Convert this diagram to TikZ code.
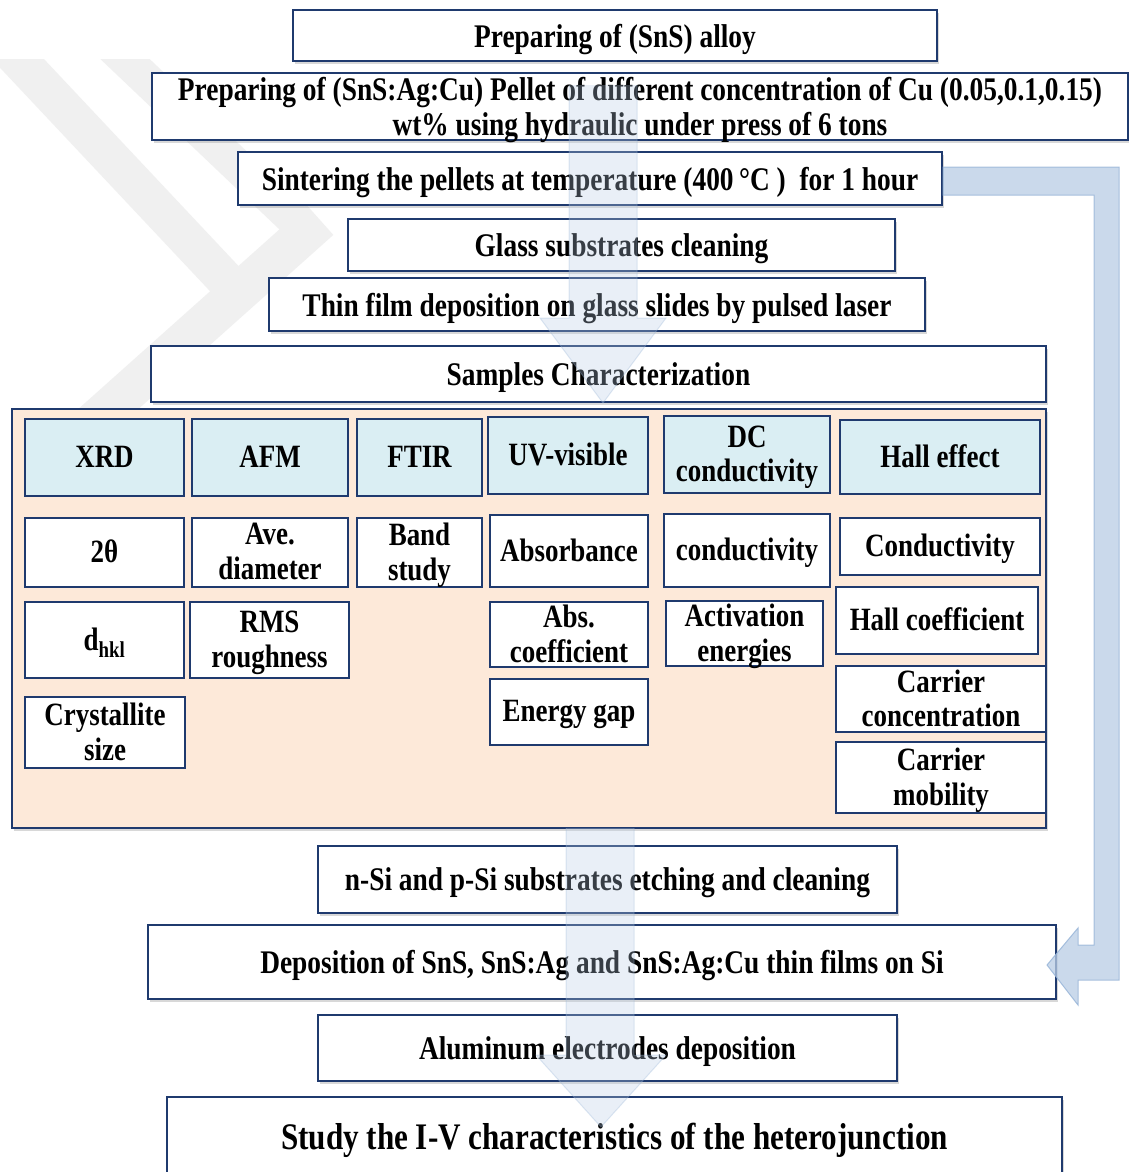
\documentclass[tikz,border=0pt]{standalone}
\usepackage{fontspec}
\setmainfont{Liberation Serif}[FakeStretch=0.83]
\usetikzlibrary{shadows}
\definecolor{navyline}{HTML}{1F3A6E}
\definecolor{hdrblue}{HTML}{DAEEF3}
\definecolor{peach}{HTML}{FDE9D9}
\definecolor{arrowblue}{HTML}{B9CDE5}
\definecolor{arrowedge}{HTML}{95B3D7}
\tikzset{
  stepbox/.style={draw=navyline, line width=1.6pt, fill=white, align=center, inner sep=2pt,
    font=\fontsize{33}{35}\selectfont\bfseries, text depth=0pt,
    drop shadow={opacity=0.3, shadow xshift=2pt, shadow yshift=-3pt}},
  cellbox/.style={draw=navyline, line width=1.4pt, fill=white, align=center, inner sep=1pt,
    font=\fontsize{32.5}{34.5}\selectfont\bfseries, text depth=2pt},
  hdrbox/.style={cellbox, fill=hdrblue},
  markfill/.style={black!6, line width=38pt},
}
\begin{document}
\begin{tikzpicture}[x=1pt, y=-1pt]
  \useasboundingbox (0,0) rectangle (1129,1172);
  \fill[white] (0,0) rectangle (1129,1172);

  % faint watermark
  \begin{scope}
    \clip (0,60) rectangle (700,1172);
    \draw[markfill] (0,40) -- (235,290);
    \draw[markfill, line width=34pt] (105,40) -- (310,235);
    \draw[markfill, line width=40pt] (320,220) -- (40,470);
  \end{scope}

  % process steps
  \node[stepbox, minimum width=644, minimum height=51] (alloy) at (615,35.5) {Preparing of (SnS) alloy};
  \node[stepbox, minimum width=976, minimum height=67] (pellet) at (640,106.5)
    {Preparing of (SnS:Ag:Cu) Pellet of different concentration of Cu (0.05,0.1,0.15)\\ wt\% using hydraulic under press of 6 tons};
  \node[stepbox, minimum width=704, minimum height=53] (sinter) at (590,178.5)
    {Sintering the pellets at temperature (400\,°C~)~ for 1 hour};
  \node[stepbox, minimum width=547, minimum height=52] (glass) at (621.5,245) {Glass substrates cleaning};
  \node[stepbox, minimum width=656, minimum height=53] (thin) at (597,304.5)
    {Thin film deposition on glass slides by pulsed laser};
  \node[stepbox, minimum width=895, minimum height=56] (samples) at (598.5,374) {Samples Characterization};

  % characterization table
  \node[draw=navyline, line width=2.4pt, fill=peach, minimum width=1034, minimum height=419,
    drop shadow={opacity=0.3, shadow xshift=2pt, shadow yshift=-3pt}] (chartab) at (529,618.5) {};

  \foreach \nm/\xa/\ya/\xb/\yb/\txt in {
      xrd/25/419/184/496/XRD, afm/192/419/348/496/AFM, ftir/357/419/482/496/FTIR,
      uvvis/488/417/648/494/UV-visible, dcc/664/416/830/493/DC\\conductivity,
      hall/840/420/1040/494/Hall effect}
    \node[hdrbox, minimum width={\xb-\xa}, minimum height={\yb-\ya}] (\nm)
      at ({(\xa+\xb)/2},{(\ya+\yb)/2}) {\txt};

  \foreach \nm/\xa/\ya/\xb/\yb/\txt in {
      ttheta/25/518/184/587/2θ, avedia/192/518/348/587/Ave.\\diameter,
      band/357/518/482/587/Band\\study, absb/490/515/648/587/Absorbance,
      cond/664/514/830/587/conductivity, hcond/840/518/1040/575/Conductivity,
      dhkl/25/602/184/678/d\textsubscript{hkl}, rms/190/602/349/678/RMS\\roughness,
      abscoef/490/602/648/667/Abs.\\coefficient, actv/666/601/823/666/Activation\\energies,
      hcoef/836/587/1038/654/Hall coefficient, cryst/25/697/185/768/Crystallite\\size,
      egap/490/679/648/745/Energy gap, ccon/836/666/1046/732/Carrier\\concentration,
      cmob/836/742/1046/813/Carrier\\mobility}
    \node[cellbox, minimum width={\xb-\xa}, minimum height={\yb-\ya}] (\nm)
      at ({(\xa+\xb)/2},{(\ya+\yb)/2}) {\txt};

  % device steps
  \node[stepbox, minimum width=579, minimum height=67] (nsi) at (607.5,879.5)
    {n-Si and p-Si substrates etching and cleaning};
  \node[stepbox, minimum width=908, minimum height=74] (depo) at (602,962)
    {Deposition of SnS, SnS:Ag and SnS:Ag:Cu thin films on Si};
  \node[stepbox, minimum width=579, minimum height=66] (alum) at (607.5,1048) {Aluminum electrodes deposition};
  \node[stepbox, minimum width=895, minimum height=78, font=\fontsize{37.5}{39}\selectfont\bfseries] (study) at (614.5,1136)
    {Study the I-V characteristics of the heterojunction};

  % flow arrows
  \coordinate (upstart) at (603,85);
  \coordinate (uptip) at (603,403);
  \coordinate (lowstart) at (600,828);
  \coordinate (lowtip) at (601,1127);
  \fill[arrowblue, fill opacity=0.3] ([xshift=-34]upstart) -- ([xshift=34]upstart) -- ([xshift=34]upstart |- 0,318)
    -- ([xshift=63]uptip |- 0,318) -- (uptip) -- ([xshift=-63]uptip |- 0,318) -- ([xshift=-34]upstart |- 0,318) -- cycle;
  \draw[arrowedge, draw opacity=0.3, line width=1pt] ([xshift=-34]upstart) -- ([xshift=-34]upstart |- 0,318)
    -- ([xshift=-63]uptip |- 0,318) -- (uptip) -- ([xshift=63]uptip |- 0,318) -- ([xshift=34]upstart |- 0,318) -- ([xshift=34]upstart);
  \fill[arrowblue, fill opacity=0.3] ([xshift=-34]lowstart) -- ([xshift=34]lowstart) -- ([xshift=34]lowstart |- 0,1055)
    -- ([xshift=65]lowtip |- 0,1055) -- (lowtip) -- ([xshift=-65]lowtip |- 0,1055) -- ([xshift=-34]lowstart |- 0,1055) -- cycle;
  \draw[arrowedge, draw opacity=0.3, line width=1pt] ([xshift=-34]lowstart) -- ([xshift=-34]lowstart |- 0,1055)
    -- ([xshift=-65]lowtip |- 0,1055) -- (lowtip) -- ([xshift=65]lowtip |- 0,1055) -- ([xshift=34]lowstart |- 0,1055) -- ([xshift=34]lowstart);

  % side return arrow
  \coordinate (sidestart) at (sinter.east);
  \coordinate (sidetip) at (1047,965);
  \filldraw[fill=arrowblue, draw=arrowedge, fill opacity=0.75, draw opacity=0.8, line width=1pt]
    (943,167) -- (1119,167) -- (1119,980) -- (1078,980) -- (1078,1005) -- (sidetip)
    -- (1078,928) -- (1078,945) -- (1094,945) -- (1094,195) -- (943,195) -- cycle;
\end{tikzpicture}
\end{document}
